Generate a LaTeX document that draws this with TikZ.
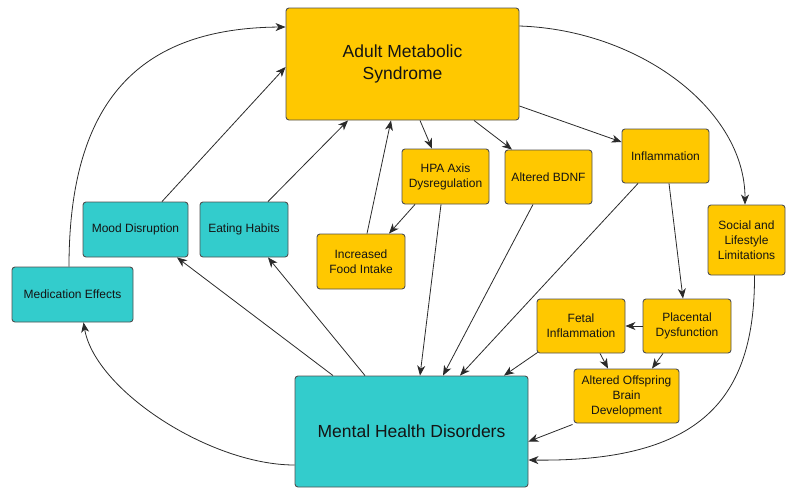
\documentclass[tikz,border=0pt]{standalone}
\usepackage{fontspec}
\setmainfont{Liberation Sans}
\usetikzlibrary{arrows.meta}
\definecolor{gold}{HTML}{FFC800}
\definecolor{teal2}{HTML}{33CCCC}
\definecolor{edgecol}{HTML}{505050}
\definecolor{linecol}{HTML}{2A2A2A}
\definecolor{txt}{HTML}{141414}
\tikzset{
  box/.style={draw=edgecol, line width=0.9pt, rounded corners=3pt, inner sep=0pt,
    align=center, text=txt, font=\fontsize{12}{15}\selectfont},
  goldbox/.style={box, fill=gold},
  tealbox/.style={box, fill=teal2},
  bigtext/.style={font=\fontsize{17.5}{22.5}\selectfont},
  conn/.style={draw=linecol, line width=0.8pt, -{Stealth[length=10pt,width=8pt,inset=3pt]}},
}
\begin{document}
\begin{tikzpicture}[x=1pt,y=-1pt]
\useasboundingbox (0,0) rectangle (786,490);
% nodes
\node[goldbox, bigtext, minimum width=233pt, minimum height=112pt] (ams) at (402.5,64) {Adult Metabolic\\Syndrome};
\node[goldbox, minimum width=87pt, minimum height=55pt] (hpa) at (445.5,176.5) {HPA Axis\\Dysregulation};
\node[goldbox, minimum width=87pt, minimum height=54pt] (bdnf) at (548.5,177) {Altered BDNF};
\node[goldbox, minimum width=87pt, minimum height=54pt] (infl) at (665.5,156) {Inflammation};
\node[goldbox, minimum width=77pt, minimum height=70pt] (soc) at (746.5,240) {Social and\\Lifestyle\\Limitations};
\node[tealbox, minimum width=105pt, minimum height=55pt] (mood) at (135.5,229.5) {Mood Disruption};
\node[tealbox, minimum width=88pt, minimum height=55pt] (eat) at (244,229.5) {Eating Habits};
\node[tealbox, minimum width=121pt, minimum height=55pt] (med) at (72.5,294.5) {Medication Effects};
\node[goldbox, minimum width=88pt, minimum height=55pt] (food) at (361,261.5) {Increased\\Food Intake};
\node[goldbox, minimum width=88pt, minimum height=54pt] (fetal) at (581,326) {Fetal\\Inflammation};
\node[goldbox, minimum width=88pt, minimum height=54pt] (plac) at (687,326) {Placental\\Dysfunction};
\node[goldbox, minimum width=105pt, minimum height=54pt] (off) at (626.5,396) {Altered Offspring\\Brain\\Development};
\node[tealbox, bigtext, minimum width=233pt, minimum height=111pt] (mhd) at (411.5,431.5) {Mental Health Disorders};
% connectors
\draw[conn] ([xshift=26.5pt]mood.north) -- ([yshift=-3pt]ams.west);
\draw[conn] ([xshift=24pt]eat.north) -- ([xshift=-54.5pt]ams.south);
\draw[conn] ([xshift=6pt]food.north) -- ([xshift=-11.5pt]ams.south);
\draw[conn] ([xshift=17.5pt]ams.south) -- ([xshift=-13.5pt]hpa.north);
\draw[conn] ([xshift=71.5pt]ams.south) -- ([xshift=-36.5pt]bdnf.north);
\draw[conn] ([yshift=-42pt]ams.east) -- ([yshift=14pt]infl.west);
\draw[conn] ([yshift=38pt]ams.east) .. controls (640,30) and (745,110) .. ([xshift=-1.5pt]soc.north);
\draw[conn] ([xshift=-30.5pt]hpa.south) -- ([xshift=28pt]food.north);
\draw[conn] ([xshift=-4.5pt]hpa.south) -- ([xshift=8.5pt]mhd.north);
\draw[conn] ([xshift=-15.5pt]bdnf.south) -- ([xshift=31.5pt]mhd.north);
\draw[conn] ([xshift=-27.5pt]infl.south) -- ([xshift=48.5pt]mhd.north);
\draw[conn] ([xshift=3.5pt]infl.south) -- ([xshift=-4pt]plac.north);
\draw[conn] (plac.west) -- (fetal.east);
\draw[conn] ([xshift=19pt]fetal.south) -- ([xshift=-18.5pt]off.north);
\draw[conn] ([xshift=-24pt]plac.south) -- ([xshift=25.5pt]off.north);
\draw[conn] ([xshift=1pt,yshift=1pt]fetal.south west) -- ([xshift=92.5pt]mhd.north);
\draw[conn] ([xshift=-1pt,yshift=-1pt]off.south west) -- ([yshift=-10pt]mhd.east);
\draw[conn] ([xshift=8pt]soc.south) .. controls (755,400) and (700,462) .. ([yshift=-28.5pt]mhd.east);
\draw[conn] ([xshift=-78.5pt]mhd.north) -- ([xshift=41.5pt]mood.south);
\draw[conn] ([xshift=-46.5pt]mhd.north) -- ([xshift=24pt]eat.south);
\draw[conn] ([yshift=-33.5pt]mhd.west) .. controls (210,465) and (95,390) .. ([xshift=11pt]med.south);
\draw[conn] ([xshift=-3.5pt]med.north) .. controls (69,100) and (140,28) .. ([yshift=37pt]ams.west);
\end{tikzpicture}
\end{document}
